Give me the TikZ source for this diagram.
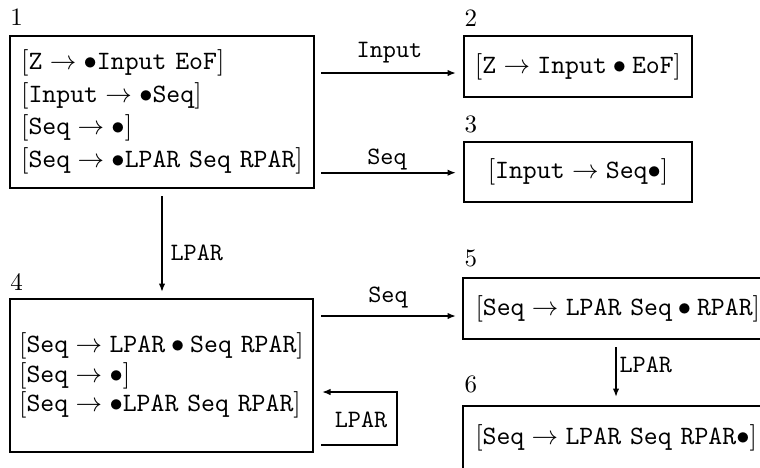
\documentclass[tikz,border=0pt]{standalone}
\usepackage{graphicx}
\usetikzlibrary{arrows.meta}
\tikzset{
  state/.style={draw, line width=0.8pt, inner sep=0pt, align=left},
  trans/.style={-{Latex[length=3.4pt,width=2.6pt]}, line width=0.65pt},
  num/.style={inner sep=0pt, anchor=base west},
  sym/.style={inner sep=0pt, font=\ttfamily, anchor=base},
}
% grammar symbols in typewriter type, with narrow math spaces between them
\newcommand\tk[1]{\mathtt{#1}}
% one LR(0) item, set a little larger than the body text
\newcommand\itm[1]{\scalebox{1.06}{$[#1]$}}

\begin{document}
\begin{tikzpicture}[x=0.4pt,y=-0.4pt]
\useasboundingbox (0,0) rectangle (760,467);
\fill[white] (0,0) rectangle (760,467);
\clip (0,0) rectangle (760,467);

% LR(0) item sets
\node[state, minimum width=121.6pt, minimum height=60.8pt] (s1) at (162,112)
  {\itm{\tk{Z}\rightarrow\bullet\tk{Input}\ \tk{EoF}}\\[1pt]
   \itm{\tk{Input}\rightarrow\bullet\tk{Seq}}\\[1pt]
   \itm{\tk{Seq}\rightarrow\bullet}\\[1pt]
   \itm{\tk{Seq}\rightarrow\bullet\tk{LPAR}\ \tk{Seq}\ \tk{RPAR}}};
\node[state, minimum width=91.2pt, minimum height=24.4pt] (s2) at (578,66.5)
  {\itm{\tk{Z}\rightarrow\tk{Input}\bullet\tk{EoF}}};
\node[state, minimum width=91.2pt, minimum height=24pt] (s3) at (578,172)
  {\itm{\tk{Input}\rightarrow\tk{Seq}\bullet}};
\node[state, minimum width=121.2pt, minimum height=61.2pt] (s4) at (161.5,375.5)
  {\itm{\tk{Seq}\rightarrow\tk{LPAR}\bullet\tk{Seq}\ \tk{RPAR}}\\[-0.2pt]
   \itm{\tk{Seq}\rightarrow\bullet}\\[-0.2pt]
   \itm{\tk{Seq}\rightarrow\bullet\tk{LPAR}\ \tk{Seq}\ \tk{RPAR}}};
\node[state, text width=132.8pt, inner xsep=5pt, minimum height=24.4pt] (s5) at (641.5,308.5)
  {\itm{\tk{Seq}\rightarrow\tk{LPAR}\ \tk{Seq}\bullet\tk{RPAR}}};
\node[state, text width=133pt, inner xsep=4.9pt, minimum height=25.6pt] (s6) at (641.5,438)
  {\itm{\tk{Seq}\rightarrow\tk{LPAR}\ \tk{Seq}\ \tk{RPAR}\bullet}};

% state numbers
\node[num] (n1) at (10,25) {1};
\node[num] (n2) at (464,26) {2};
\node[num] (n3) at (464,132) {3};
\node[num] (n4) at (10,290) {4};
\node[num] (n5) at (464,266) {5};
\node[num] (n6) at (464,392) {6};

% routing levels
\coordinate (y12) at (0,73);
\coordinate (y13) at (0,172.7);
\coordinate (y45) at (0,316);
\coordinate (x56) at (616,0);
\coordinate (lpA) at (397,445);
\coordinate (lpB) at (397,392);

% transitions
\draw[trans, shorten <=2.4pt, shorten >=2.8pt] (s1.east |- y12) -- (s2.west |- y12);
\draw[trans, shorten <=2.4pt, shorten >=2.8pt] (s1.east |- y13) -- (s3.west |- y13);
\draw[trans, shorten <=2.8pt, shorten >=2.4pt] (s1.south) -- (s1.south |- s4.north);
\draw[trans, shorten <=2.8pt, shorten >=2.4pt] (s4.east |- y45) -- (s5.west |- y45);
\draw[trans, shorten <=2.8pt, shorten >=3.2pt] (s4.east |- lpA) -- (lpA) -- (lpB) -- (s4.east |- lpB);
\draw[trans, shorten <=2.8pt, shorten >=3.2pt] (s5.south -| x56) -- (s6.north -| x56);

% transition labels
\node[sym] (e12) at (389.5,57) {Input};
\node[sym] (e13) at (387,164) {Seq};
\node[sym, anchor=base west] (e14) at (170,260) {LPAR};
\node[sym] (e45) at (388,302) {Seq};
\node[sym] (e44) at (361,427) {LPAR};
\node[sym, anchor=base west] (e56) at (619,372) {LPAR};
\end{tikzpicture}
\end{document}
